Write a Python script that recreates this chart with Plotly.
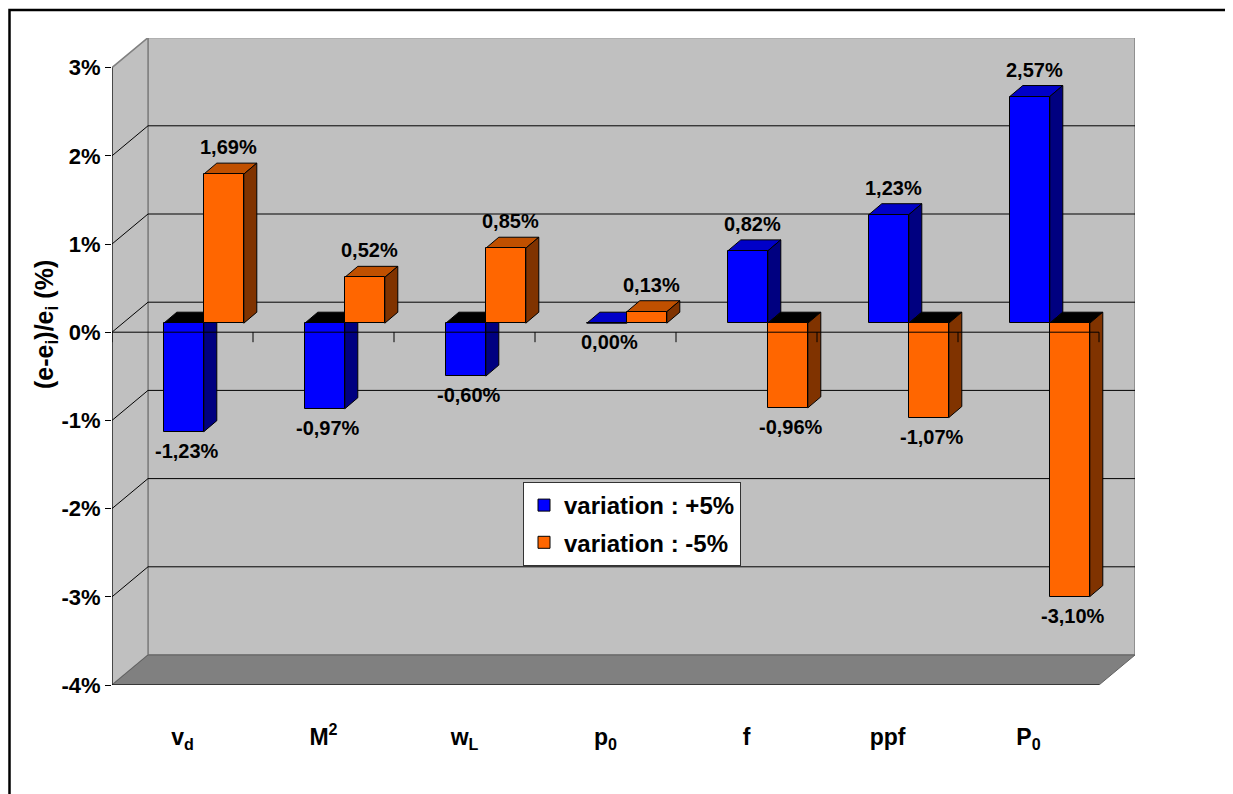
import plotly.graph_objects as go

# ---------------- data ----------------
categories = ["v<sub>d</sub>", "M<sup>2</sup>", "w<sub>L</sub>", "p<sub>0</sub>", "f", "ppf", "P<sub>0</sub>"]
plus5 = [-1.23, -0.97, -0.60, 0.00, 0.82, 1.23, 2.57]
minus5 = [1.69, 0.52, 0.85, 0.13, -0.96, -1.07, -3.10]
series_names = ["variation : +5%", "variation : -5%"]
y_ticks = [-4, -3, -2, -1, 0, 1, 2, 3]

# ---------------- styling / geometry ----------------
FONT = "Arial, 'Liberation Sans', sans-serif"
CAT_PX = 141.0     # pixels per category
PCT_PX = 88.2      # pixels per 1 %
def ux(p):
    return p / CAT_PX
def uy(p):
    return p / PCT_PX

WX, WY = ux(36), uy(30)        # depth of the walls
FX, FY = ux(10.8), uy(9)       # depth of bar front face
DX, DY = ux(13), uy(11)        # depth of bars
X_L, X_R = -0.5, len(categories) - 0.5
Y_MIN, Y_MAX = y_ticks[0], y_ticks[-1]

# front-face slots (relative to category centre, front plane units)
slots = [(ux(-29.5), ux(40)), (ux(10.5), ux(40))]
front_cols = ["#0000FF", "#FF6600"]
top_cols = ["#0000C8", "#C05000"]
side_cols = ["#000080", "#803300"]
series_vals = [plus5, minus5]

fig = go.Figure()
idx = list(range(len(categories)))

shapes = []
def poly(pts, fill, line="black", width=1, layer="below"):
    d = "M " + " L ".join(f"{x},{y}" for x, y in pts) + " Z"
    shapes.append(dict(type="path", path=d, xref="x", yref="y", fillcolor=fill,
                       line=dict(color=line, width=width), layer=layer))
def seg(x0, y0, x1, y1, color="black", width=1, layer="below"):
    shapes.append(dict(type="line", x0=x0, y0=y0, x1=x1, y1=y1, xref="x", yref="y",
                       line=dict(color=color, width=width), layer=layer))

# walls
poly([(X_L + WX, Y_MIN + WY), (X_L + WX, Y_MAX + WY), (X_R + WX, Y_MAX + WY), (X_R + WX, Y_MIN + WY)],
     "#C0C0C0", "#808080", 1.5)
poly([(X_L, Y_MIN), (X_L, Y_MAX), (X_L + WX, Y_MAX + WY), (X_L + WX, Y_MIN + WY)],
     "#C0C0C0", "#808080", 1.5)
poly([(X_L, Y_MIN), (X_L + WX, Y_MIN + WY), (X_R + WX, Y_MIN + WY), (X_R, Y_MIN)],
     "#808080", "#606060", 1)
# gridlines
for v in y_ticks[1:-1]:
    seg(X_L + WX, v + WY, X_R + WX, v + WY)
    seg(X_L, v, X_L + WX, v + WY)
# front left edge & bottom axis
seg(X_L, Y_MIN, X_L, Y_MAX)
seg(X_L, Y_MIN, X_R, Y_MIN)
for b in range(len(categories) + 1):
    xb = X_L + b
    seg(xb, Y_MIN, xb, Y_MIN - uy(9), color="black" if b < len(categories) else "#808080")

# bar side / top faces
for i in idx:
    for s in range(2):
        v = series_vals[s][i]
        xa = i + FX + slots[s][0]
        xb = xa + slots[s][1]
        ytop = FY + max(v, 0)
        tcol = top_cols[s] if v >= 0 else "black"
        poly([(xa, ytop), (xb, ytop), (xb + DX, ytop + DY), (xa + DX, ytop + DY)], tcol)
        if v != 0:
            poly([(xb, FY), (xb, FY + v), (xb + DX, FY + v + DY), (xb + DX, FY + DY)], side_cols[s])

# zero line at front with boundary ticks
seg(X_L, 0, X_R, 0, layer="above")
for b in range(len(categories) + 1):
    seg(X_L + b, 0, X_L + b, -uy(10), layer="above")

# bars (front faces)
for s in range(2):
    fig.add_trace(go.Bar(
        x=[i + FX for i in idx], y=series_vals[s], base=FY,
        offset=slots[s][0], width=slots[s][1],
        marker=dict(color=front_cols[s], line=dict(color="black", width=1)),
        name=series_names[s], legendgroup=f"g{s}", hoverinfo="skip"))

# value labels
annotations = []
for s in range(2):
    for i in idx:
        v = series_vals[s][i]
        xc = i + FX + slots[s][0] + slots[s][1] / 2
        txt = f"{v:.2f}".replace(".", ",") + "%"
        annotations.append(dict(
            x=xc, y=FY + v, xref="x", yref="y", text=txt, showarrow=False,
            xanchor="center", yanchor="middle",
            xshift=5 if v > 0 else 3, yshift=27 if v > 0 else -19,
            font=dict(family=FONT, size=20, color="black", weight="bold")))

# page is offset by the browser's default 8px body margin
OFF = 8
L, R, T, B = 112 - OFF, 98, 38 - OFF, 109
W, H = 1233 - OFF, 794 - OFF
plot_w = W - L - R
plot_h = H - T - B

def px_to_paper_x(px):
    return (px - OFF - L) / plot_w
def px_to_paper_y(py):
    return (H - B - (py - OFF)) / plot_h

# axis title
annotations.append(dict(
    x=px_to_paper_x(46), y=px_to_paper_y(325), xref="paper", yref="paper", textangle=-90,
    xanchor="center", yanchor="middle",
    text="(e-e<sub>i</sub>)/e<sub>i</sub> (%)", showarrow=False,
    font=dict(family=FONT, size=25, color="black", weight="bold")))

# outer frame
fx, fy = px_to_paper_x(9.5), px_to_paper_y(10)
shapes.append(dict(type="path", xref="paper", yref="paper",
                   path=f"M {fx},{px_to_paper_y(820)} L {fx},{fy} L {px_to_paper_x(1260)},{fy}",
                   line=dict(color="black", width=2.5)))

fig.update_layout(
    width=W, height=H,
    margin=dict(l=L, r=R, t=T, b=B, autoexpand=False),
    paper_bgcolor="white", plot_bgcolor="white",
    barmode="overlay", bargap=0,
    showlegend=True,
    legend=dict(x=px_to_paper_x(523), y=px_to_paper_y(482), xanchor="left", yanchor="top",
                bgcolor="white", bordercolor="#333333", borderwidth=1,
                font=dict(family=FONT, size=24, color="black", weight="bold"),
                itemwidth=30, tracegroupgap=3, traceorder="grouped"),
    xaxis=dict(range=[X_L, X_L + plot_w / CAT_PX], showgrid=False, zeroline=False, showline=False,
               tickmode="array", tickvals=idx, ticktext=categories, ticks="",
               ticklabelstandoff=36, automargin=False,
               tickfont=dict(family=FONT, size=23, color="black", weight="bold")),
    yaxis=dict(range=[Y_MIN, Y_MIN + plot_h / PCT_PX], showgrid=False, zeroline=False, showline=False,
               tickmode="array", tickvals=y_ticks, ticktext=[f"{t}%" for t in y_ticks],
               ticks="outside", ticklen=6, tickcolor="black", automargin=False,
               tickfont=dict(family=FONT, size=22, color="black", weight="bold")),
    shapes=shapes, annotations=annotations,
)

fig.write_html("out.html")
